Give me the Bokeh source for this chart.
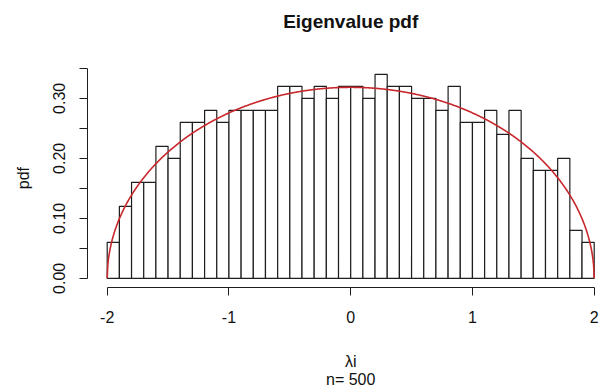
import math
import numpy as np
from bokeh.plotting import figure
from bokeh.models import Range1d, FixedTicker, Label
from bokeh.embed import file_html
from bokeh.resources import INLINE

# Histogram bin edges (lambda_i), width 0.1
bin_edges = [-2.0, -1.9, -1.8, -1.7, -1.6, -1.5, -1.4, -1.3, -1.2, -1.1,
             -1.0, -0.9, -0.8, -0.7, -0.6, -0.5, -0.4, -0.3, -0.2, -0.1,
             0.0, 0.1, 0.2, 0.3, 0.4, 0.5, 0.6, 0.7, 0.8, 0.9,
             1.0, 1.1, 1.2, 1.3, 1.4, 1.5, 1.6, 1.7, 1.8, 1.9, 2.0]

# Histogram density per bin (n = 500)
density = [0.06, 0.12, 0.16, 0.16, 0.22, 0.20, 0.26, 0.26, 0.28, 0.26,
           0.28, 0.28, 0.28, 0.28, 0.32, 0.32, 0.30, 0.32, 0.30, 0.32,
           0.32, 0.30, 0.34, 0.32, 0.32, 0.30, 0.30, 0.28, 0.32, 0.26,
           0.26, 0.28, 0.24, 0.28, 0.20, 0.18, 0.18, 0.20, 0.08, 0.06]

x_ticks = [-2, -1, 0, 1, 2]
x_tick_labels = ["-2", "-1", "0", "1", "2"]
y_ticks = [0, 0.05, 0.1, 0.15, 0.2, 0.25, 0.3, 0.35]
y_tick_labels = ["0.00", "", "0.10", "", "0.20", "", "0.30", ""]

# Wigner semicircle law, radius 2
radius = 2.0
x_curve = np.linspace(-radius, radius, 801)
y_curve = np.sqrt(np.clip(radius**2 - x_curve**2, 0, None)) / (2 * np.pi)

FONT = "Liberation Sans"
INK = "#111111"

# The frame fills the whole canvas (invisible); the axes sit at fixed
# locations where R's plot region edges are, and all texts are labels.
p = figure(width=602, height=390,
           x_range=Range1d(-2.8764, 2.0682), y_range=Range1d(-0.187, 0.463),
           output_backend="svg", toolbar_location=None, min_border=0)
p.outline_line_color = None
p.xgrid.grid_line_color = None
p.ygrid.grid_line_color = None
p.background_fill_color = "white"
p.border_fill_color = "white"

p.quad(left=bin_edges[:-1], right=bin_edges[1:], top=density, bottom=0,
       fill_color="white", line_color="#1e1e1e", line_width=1.2)
p.line(x_curve, y_curve, line_color="#c8282c", line_width=1.6)

for ax in (p.xaxis[0], p.yaxis[0]):
    ax.axis_line_color = "#1e1e1e"
    ax.major_tick_line_color = "#1e1e1e"
    ax.minor_tick_line_color = None
    ax.major_tick_in = 0
    ax.major_tick_out = 8
    ax.major_label_text_font = FONT
    ax.major_label_text_font_size = "16px"
    ax.major_label_text_color = INK

xa = p.xaxis[0]
xa.ticker = FixedTicker(ticks=x_ticks)
xa.bounds = (-2, 2)
xa.fixed_location = -0.0145
xa.major_label_overrides = {t: s for t, s in zip(x_ticks, x_tick_labels)}
xa.major_label_standoff = 16

ya = p.yaxis[0]
ya.ticker = FixedTicker(ticks=y_ticks)
ya.bounds = (0, 0.35)
ya.fixed_location = -2.16
ya.major_label_overrides = {t: s for t, s in zip(y_ticks, y_tick_labels)}
ya.major_label_orientation = "vertical"
ya.major_label_standoff = 15


def text(x, y, s, size="16px", style="normal", angle=0.0):
    p.add_layout(Label(x=x, y=y, text=s, angle=angle, text_font=FONT,
                       text_font_size=size, text_font_style=style,
                       text_align="center", text_baseline="middle",
                       text_color=INK))


text(0, 0.428, "Eigenvalue pdf", size="19px", style="bold")
text(0, -0.1387, "λi")
text(0, -0.1687, "n= 500")
text(-2.685, 0.167, "pdf", angle=math.pi / 2)

open("out.html", "w").write(file_html(p, INLINE))
